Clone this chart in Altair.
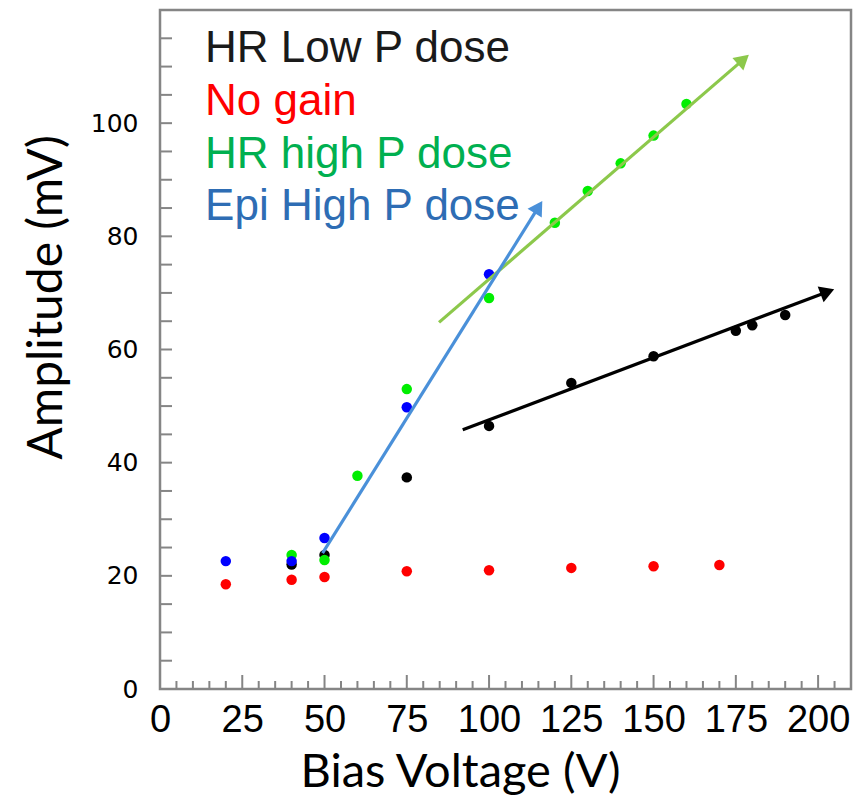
import math
import altair as alt
import pandas as pd

# ---------------- data ----------------
series_names = ["HR Low P dose", "No gain", "HR high P dose", "Epi High P dose"]
point_colors = ["#000000", "#ff0000", "#00ee00", "#0000ff"]
legend_colors = ["#1a1a1a", "#ff0000", "#00b050", "#2e6db4"]
legend_y = [110.8, 101.4, 92.1, 82.9]

hr_low_x = [40, 50, 75, 100, 125, 150, 175, 180, 190]
hr_low_y = [22.0, 23.7, 37.4, 46.5, 54.1, 58.8, 63.3, 64.3, 66.1]

no_gain_x = [20, 40, 50, 75, 100, 125, 150, 170]
no_gain_y = [18.5, 19.3, 19.8, 20.8, 21.0, 21.4, 21.7, 21.9]

hr_high_x = [40, 50, 60, 75, 100, 120, 130, 140, 150, 160]
hr_high_y = [23.7, 22.8, 37.7, 53.0, 69.1, 82.4, 88.0, 92.9, 97.8, 103.4]

epi_x = [20, 40, 50, 75, 100]
epi_y = [22.6, 22.6, 26.7, 49.8, 73.3]

# trend arrows: start and tip, in data units
arrow_names = ["HR Low P dose", "HR high P dose", "Epi High P dose"]
arrow_colors = ["#000000", "#8cc84b", "#4a90d9"]
arrow_x0 = [92.0, 84.8, 49.4]
arrow_y0 = [45.8, 64.8, 24.0]
arrow_x1 = [204.2, 178.4, 115.8]
arrow_y1 = [70.5, 111.8, 85.9]

x_tick_labels = [0, 25, 50, 75, 100, 125, 150, 175, 200]
y_tick_labels = [0, 20, 40, 60, 80, 100]
x_minor = list(range(0, 211, 5))
y_minor = list(range(0, 121, 5))

# ---------------- layout ----------------
W, H = 691, 679
X_MAX, Y_MAX = 210, 120
FRAME = "#858585"

xs = alt.Scale(domain=[0, X_MAX], nice=False, zero=False)
ys = alt.Scale(domain=[0, Y_MAX], nice=False, zero=False)

X_TITLE = "Bias Voltage (V)"
Y_TITLE = "Amplitude (mV)"
x_axis = alt.Axis(values=x_tick_labels, grid=False, domain=False, ticks=False,
                  tickSize=0, labelPadding=12,
                  labelFont="Liberation Sans Narrow, Arial Narrow, Liberation Sans",
                  labelFontSize=38, labelColor="#000000", labelFlush=False,
                  titleFont="Lato", titleFontSize=47, titleFontWeight="normal",
                  titleColor="#000000", titleX=300, titleY=97,
                  titleBaseline="alphabetic", titleAnchor="start", titleAlign="center")
y_axis = alt.Axis(values=y_tick_labels, grid=False, domain=False, ticks=False,
                  tickSize=0, labelPadding=22, labelFont="DejaVu Sans",
                  labelFontSize=25, labelColor="#000000", labelFlush=False,
                  titleFont="Lato", titleFontSize=48, titleFontWeight="normal",
                  titleColor="#000000", titleX=-113, titleY=287,
                  titleBaseline="middle", titleAlign="center", titleAngle=270)


def X(field):
    return alt.X(field, scale=xs, axis=x_axis, title=X_TITLE)


def Y(field):
    return alt.Y(field, scale=ys, axis=y_axis, title=Y_TITLE)


rows = []
for name, xv, yv in [
    ("HR Low P dose", hr_low_x, hr_low_y),
    ("HR high P dose", hr_high_x, hr_high_y),
    ("Epi High P dose", epi_x, epi_y),
    ("No gain", no_gain_x, no_gain_y),
]:
    for a, b in zip(xv, yv):
        rows.append({"series": name, "x": a, "y": b, "ord": len(rows)})
pts = pd.DataFrame(rows)

# arrow geometry (angles from the plot's pixel scale)
sx, sy = W / X_MAX, H / Y_MAX
HEAD = 280  # symbol area
head_r = math.sqrt(HEAD) / 2
head_h = math.sqrt(3) * head_r / 2
line_rows, head_rows = [], []
for n, c, a0, b0, a1, b1 in zip(arrow_names, arrow_colors, arrow_x0, arrow_y0, arrow_x1, arrow_y1):
    dxp, dyp = (a1 - a0) * sx, (b1 - b0) * sy
    L = math.hypot(dxp, dyp)
    ux, uy = dxp / L, dyp / L
    cx = a1 - ux * head_h / sx
    cy = b1 - uy * head_h / sy
    ang = math.degrees(math.atan2(dxp, dyp)) % 360
    line_rows.append({"arrow": n, "color": c, "x": a0, "y": b0, "k": 0})
    line_rows.append({"arrow": n, "color": c, "x": cx, "y": cy, "k": 1})
    head_rows.append({"arrow": n, "color": c, "x": cx, "y": cy, "angle": ang})
lines_df = pd.DataFrame(line_rows)
heads_df = pd.DataFrame(head_rows)

legend_df = pd.DataFrame({
    "label": series_names,
    "color": legend_colors,
    "x": [13.7] * 4,
    "y": legend_y,
})

x_major_df = pd.DataFrame({"x": [v for v in x_minor if v % 25 == 0]})
x_minor_df = pd.DataFrame({"x": [v for v in x_minor if v % 25 != 0]})
y_tick_df = pd.DataFrame({"y": y_minor})

# ---------------- layers ----------------
points = alt.Chart(pts).mark_circle(size=110, opacity=1).encode(
    x=X("x:Q"),
    y=Y("y:Q"),
    color=alt.Color("series:N", scale=alt.Scale(domain=series_names, range=point_colors), legend=None),
    order=alt.Order("ord:Q"),
)

y_ticks = alt.Chart(y_tick_df).mark_rule(color=FRAME, strokeWidth=2).encode(
    y=Y("y:Q"),
    x=alt.value(0), x2=alt.value(12),
)
x_ticks_major = alt.Chart(x_major_df).mark_rule(color=FRAME, strokeWidth=2).encode(
    x=X("x:Q"),
    y=alt.value(H), y2=alt.value(H - 14),
)
x_ticks_minor = alt.Chart(x_minor_df).mark_rule(color=FRAME, strokeWidth=2).encode(
    x=X("x:Q"),
    y=alt.value(H), y2=alt.value(H - 8),
)

arrow_lines = alt.Chart(lines_df).mark_line(strokeWidth=3.2).encode(
    x=X("x:Q"),
    y=Y("y:Q"),
    detail="arrow:N",
    order="k:Q",
    color=alt.Color("color:N", scale=None),
)
arrow_heads = alt.Chart(heads_df).mark_point(shape="triangle", filled=True, size=HEAD, opacity=1).encode(
    x=X("x:Q"),
    y=Y("y:Q"),
    angle=alt.Angle("angle:Q", scale=None),
    color=alt.Color("color:N", scale=None),
)

legend_text = alt.Chart(legend_df).mark_text(
    align="left", baseline="alphabetic", font="Liberation Sans", fontSize=44
).encode(
    x=X("x:Q"),
    y=Y("y:Q"),
    text="label:N",
    color=alt.Color("color:N", scale=None),
)

chart = alt.layer(
    y_ticks, x_ticks_major, x_ticks_minor, points, arrow_lines, arrow_heads, legend_text
).properties(
    width=W, height=H,
    autosize=alt.AutoSizeParams(type="none"),
    padding={"left": 160, "top": 10, "right": 5, "bottom": 106},
    background="#ffffff",
).configure_view(
    stroke=FRAME, strokeWidth=2.5
)

chart.save("out.html", embed_options={"renderer": "svg", "actions": False})
